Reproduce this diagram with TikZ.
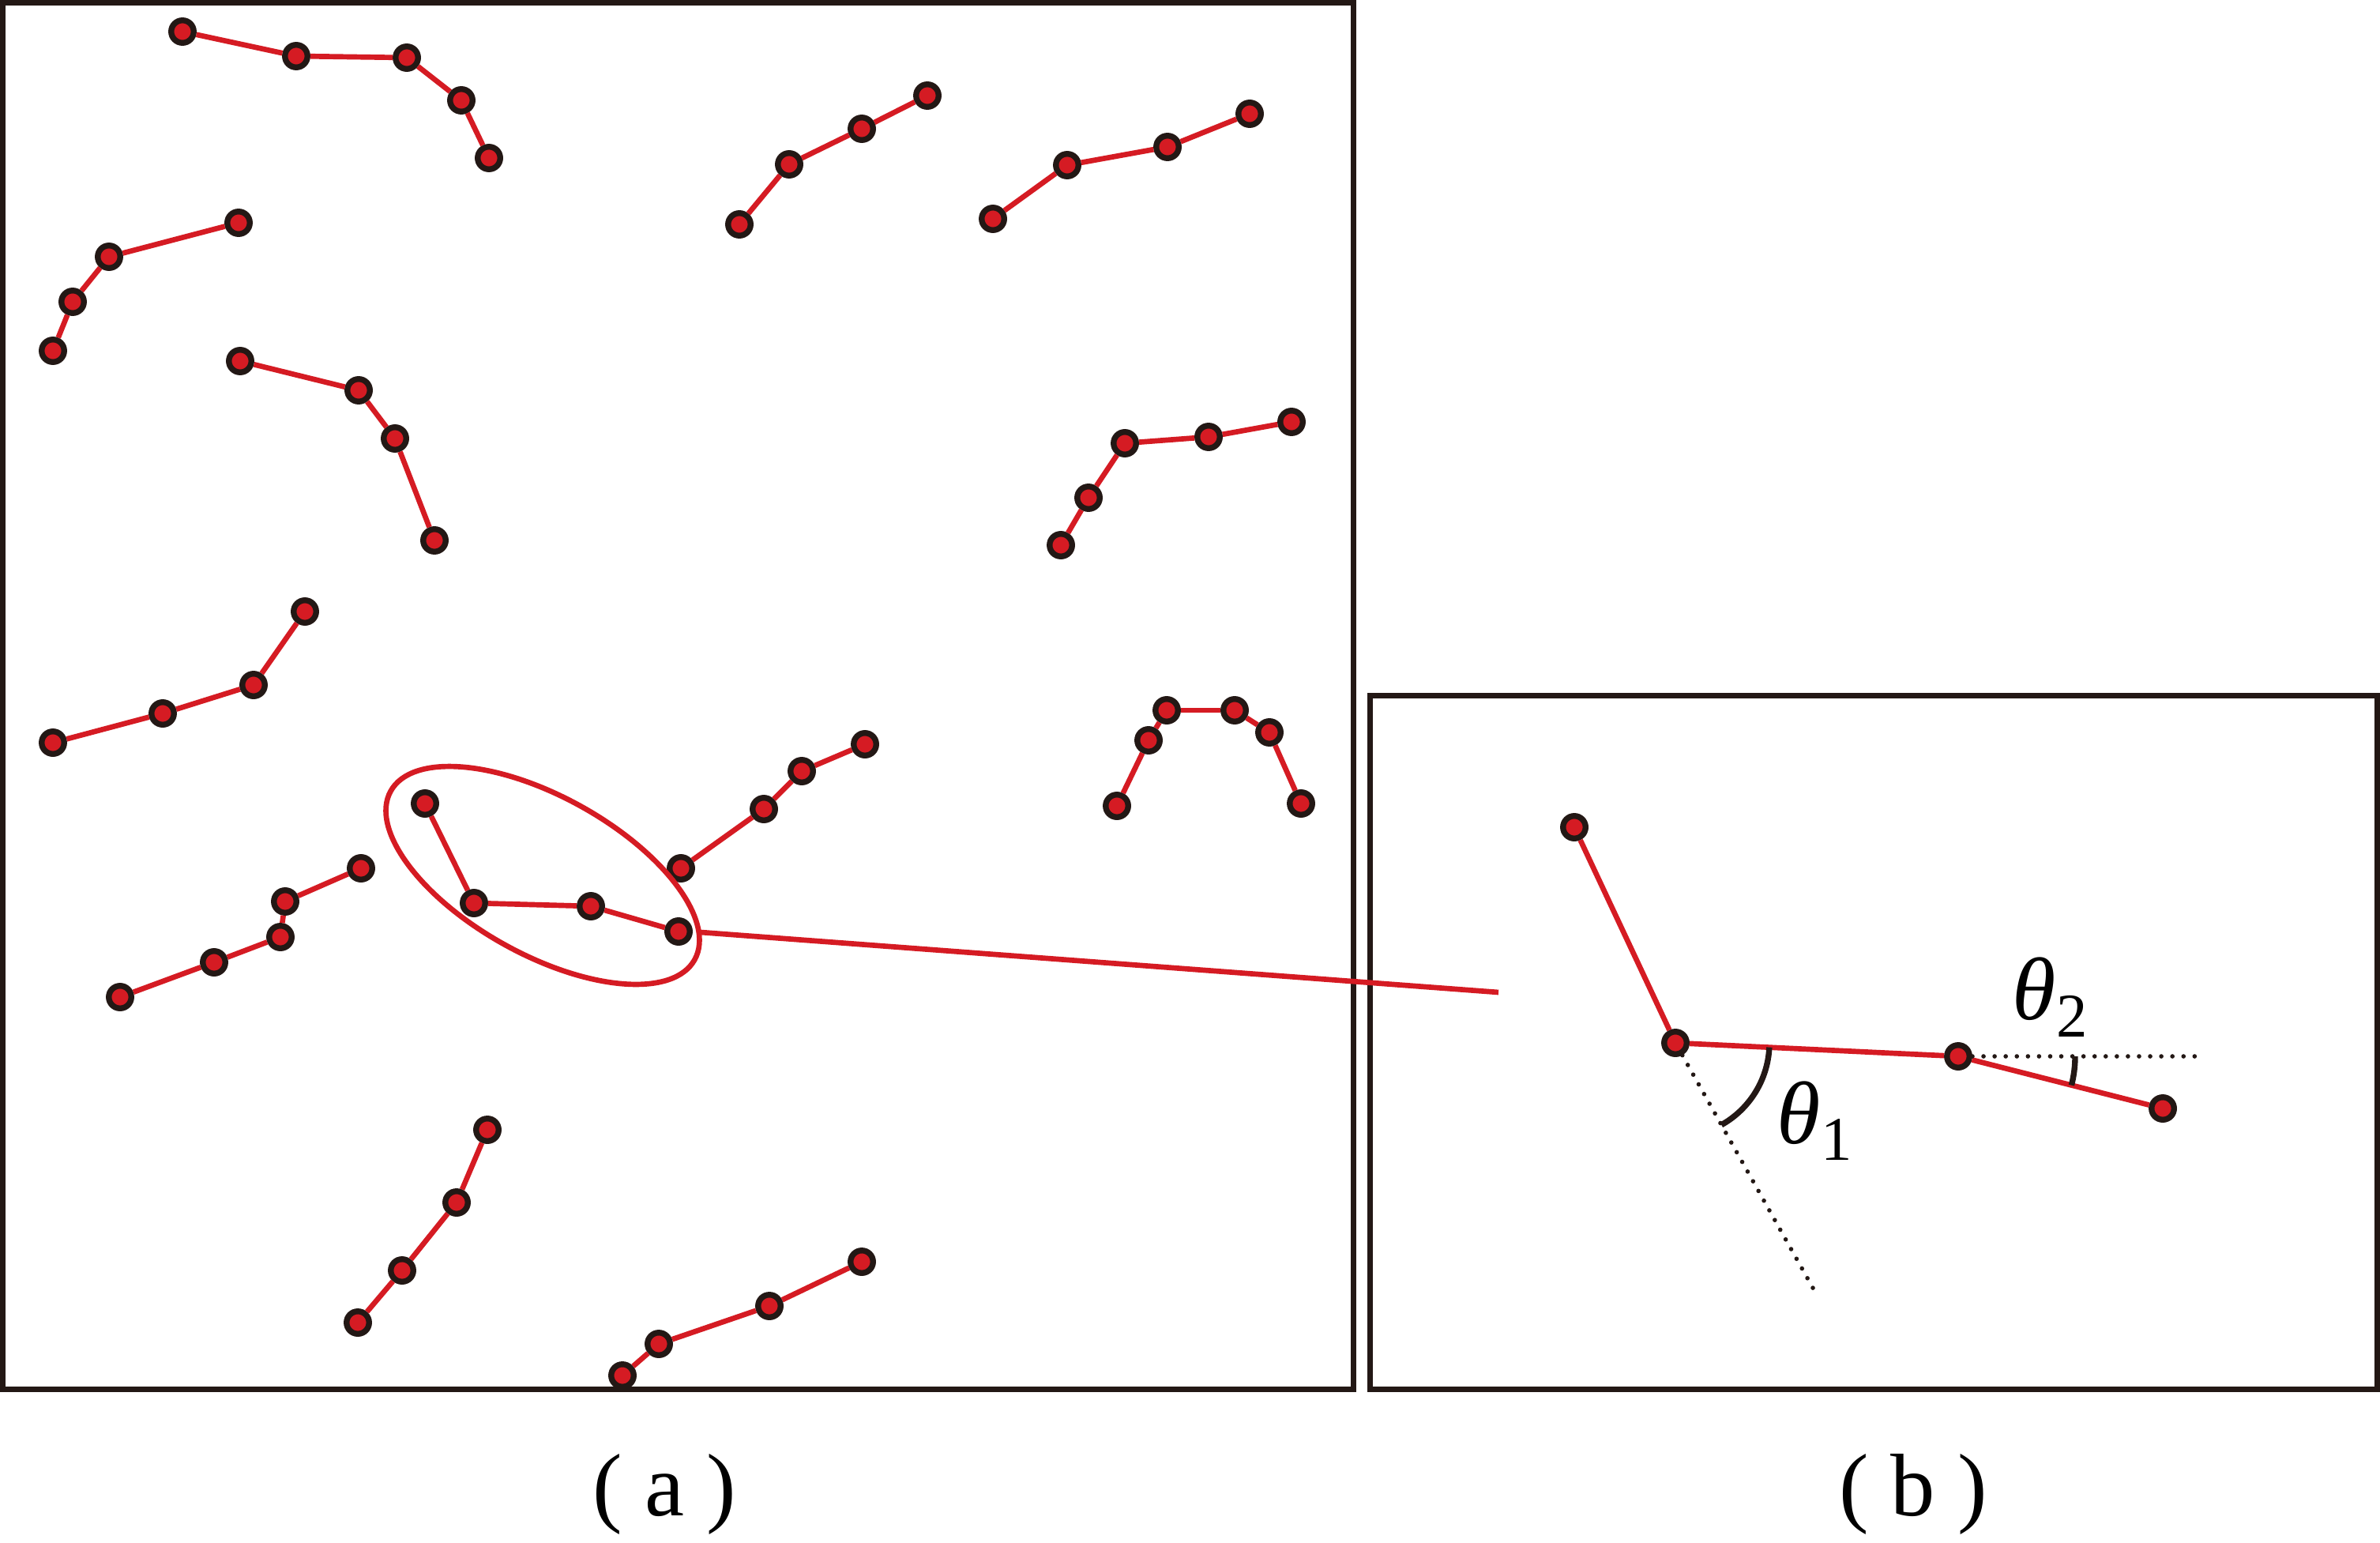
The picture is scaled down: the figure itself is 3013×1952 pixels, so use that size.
\documentclass[tikz,border=0pt]{standalone}
\usepackage{fontspec}
\setmainfont{Liberation Serif}
\definecolor{chainred}{RGB}{213,27,35}
\definecolor{inkblack}{RGB}{35,24,21}
\tikzset{
  bead/.style={circle, draw=inkblack, fill=chainred, line width=2.1pt, minimum size=2.85mm, inner sep=0pt},
  bond/.style={chainred, line width=1.9pt},
  panel/.style={inkblack, line width=2pt},
  guide/.style={inkblack, line width=1.6pt, line cap=round, dash pattern=on 0pt off 4pt},
  anglemark/.style={inkblack, line width=2.1pt},
}

\begin{document}
\begin{tikzpicture}[x=0.01cm, y=-0.01cm, font=\fontsize{32}{38}\selectfont]
  \useasboundingbox (0,0) rectangle (3013,1952);

  % the two panels
  \draw[panel] (3.5,3.5) rectangle (1713.5,1758.5);
  \draw[panel] (1734.5,880.5) rectangle (3009.5,1758.5);

  % chains of panel (a)
  \foreach \pts [count=\k] in {
      {(231,40),(375,71),(515,73),(584,127),(619,200)},
      {(302,282),(138,325),(92,382),(67,444)},
      {(304,457),(454,494),(500,555),(550,684)},
      {(936,284),(999,208),(1091,163),(1174,121)},
      {(1257,277),(1351,209),(1478,186),(1582,144)},
      {(1635,534),(1530,553),(1424,561),(1378,630),(1343,690)},
      {(386,774),(321,867),(206,903),(67,940)},
      {(1095,942),(1015,976),(967,1024),(862,1099)},
      {(1414,1020),(1454,937),(1477,899),(1563,899),(1607,927),(1647,1017)},
      {(538,1017),(600,1143),(748,1147),(859,1179)},
      {(457,1099),(361,1141),(355,1186),(271,1218),(152,1262)},
      {(617,1430),(578,1522),(509,1608),(453,1674)},
      {(1091,1597),(974,1653),(834,1701),(788,1741)}}
  {
    \foreach \p [count=\i] in \pts
      \node[bead] (chain\k-\i) at \p {};
    \foreach \p [count=\i, remember=\i as \j (initially 1)] in \pts {
      \ifnum\i>1 \draw[bond] (chain\k-\j) -- (chain\k-\i); \fi
    }
  }

  % zoomed chain
  \draw[bond, rotate around={-29:(687,1108)}] (687,1108) ellipse [x radius=220, y radius=100];
  \coordinate (zoomin) at (887,1180);
  \coordinate (zoomout) at (1897,1256);
  \draw[bond] (zoomin) -- (zoomout);

  % panel (b)
  \node[bead] (b1) at (1993,1047) {};
  \node[bead] (b2) at (2121,1320) {};
  \node[bead] (b3) at (2479,1337) {};
  \node[bead] (b4) at (2738,1403) {};
  \draw[bond] (b1) -- (b2) -- (b3) -- (b4);
  \coordinate (guide1) at (2300,1639);
  \coordinate (guide2) at (2781,1337);
  \draw[guide] (b2) -- (guide1);
  \draw[guide] (b3) -- (guide2);
  \draw[anglemark] ([shift={(2.7:119)}]b2.center) arc (2.7:60.7:119);
  \draw[anglemark] ([shift={(0:148)}]b3.center) arc (0:14.3:148);
  \node[anchor=base west, inner sep=0pt] (theta1) at (2249,1447) {\textit{θ}\textsubscript{1}};
  \node[anchor=base west, inner sep=0pt] (theta2) at (2547,1290) {\textit{θ}\textsubscript{2}};

  % captions
  \node[anchor=base] (capa) at (841,1918) {( a )};
  \node[anchor=base] (capb) at (2422,1918) {( b )};
\end{tikzpicture}
\end{document}
